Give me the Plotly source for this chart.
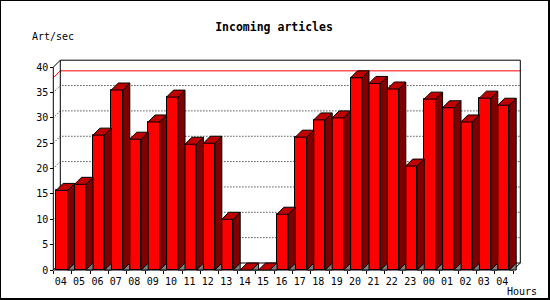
import plotly.graph_objects as go

# ---------------- data ----------------
hours = ["04", "05", "06", "07", "08", "09", "10", "11", "12", "13", "14", "15", "16",
         "17", "18", "19", "20", "21", "22", "23", "00", "01", "02", "03", "04"]
values = [15.7, 16.9, 26.6, 35.5, 25.8, 29.2, 34.1, 24.8, 25.0, 10.0, 0.0, 0.0, 11.0,
          26.2, 29.6, 30.0, 37.9, 36.8, 35.7, 20.5, 33.7, 32.0, 29.2, 33.9, 32.5]
y_ticks = [0, 5, 10, 15, 20, 25, 30, 35, 40]
title_text = "Incoming articles"
y_title = "Art/sec"
x_title = "Hours"

# ---------------- geometry / style ----------------
W, H = 550, 300
X0_PX = 53.3      # front y-axis position
SLOT_PX = 18.4    # width of one category slot
Y0_PX = 270       # front floor line
UNIT_PX = 5.07    # pixels per unit
DEPTH_PX = 7      # 3d depth offset
FONT = "DejaVu Sans Mono"

n = len(values)
ymax_axis = y_ticks[-1]
xr = [-0.5 - X0_PX / SLOT_PX, -0.5 + (W - X0_PX) / SLOT_PX]
yr = [-(H - Y0_PX) / UNIT_PX, Y0_PX / UNIT_PX]
dx = DEPTH_PX / SLOT_PX
dy = DEPTH_PX / UNIT_PX
bar_off = 2.8 / SLOT_PX
bar_w = 11.5 / SLOT_PX
x_left = -0.5
x_right = n - 0.5

FRONT = "#ff0000"
SIDE = "#800000"
TOP = "#c00000"
SHADOW = "#808080"

x0s = [i - 0.5 + bar_off for i in range(n)]
centers = [x + bar_w / 2 for x in x0s]

fig = go.Figure()

# front faces
fig.add_trace(go.Bar(x=centers, y=values, width=bar_w, base=0,
                     marker=dict(color=FRONT, line=dict(color="black", width=1)),
                     hoverinfo="skip", showlegend=False))

# floor shadows, side faces and top faces as polygons built from the values
sx, sy, tx, ty, gx, gy = [], [], [], [], [], []
for x0, v in zip(x0s, values):
    x1 = x0 + bar_w
    gx += [x1, x1 + dx, x1 + dx, x1, None]
    gy += [0, 0, dy, 0, None]
    if v > 0:
        sx += [x1, x1 + dx, x1 + dx, x1, x1, None]
        sy += [0, dy, v + dy, v, 0, None]
    tx += [x0, x0 + dx, x1 + dx, x1, x0, None]
    ty += [v, v + dy, v + dy, v, v, None]

for px_, py_, col in [(gx, gy, SHADOW), (sx, sy, SIDE), (tx, ty, TOP)]:
    fig.add_trace(go.Scatter(x=px_, y=py_, mode="lines", fill="toself", fillcolor=col,
                             line=dict(color="black", width=1), hoverinfo="skip",
                             showlegend=False))

# dummy trace for the label axis
fig.add_trace(go.Scatter(x=centers, y=[0] * n, xaxis="x2", mode="none",
                         hoverinfo="skip", showlegend=False))

shapes = []

def line(xs, ys, color="black", width=1, dash="solid", layer="below"):
    path = "M " + " L ".join(f"{a},{b}" for a, b in zip(xs, ys))
    shapes.append(dict(type="path", path=path, xref="x", yref="y", layer=layer,
                       line=dict(color=color, width=width, dash=dash)))

# gridlines (dotted, on the left wall and back wall)
for t in y_ticks[1:-1]:
    line([x_left, x_left + dx, x_right + dx], [t, t + dy, t + dy], dash="1px,2px")
# max line
vmax = max(values)
line([x_left, x_left + dx, x_right + dx], [vmax, vmax + dy, vmax + dy], color="#ff0000")
# frame
line([x_left + dx, x_left + dx, x_right + dx, x_right + dx, x_left + dx],
     [dy, ymax_axis + dy, ymax_axis + dy, dy, dy])
line([x_left, x_left + dx], [ymax_axis, ymax_axis + dy])
line([x_left, x_left + dx], [0, dy])
line([x_left, x_left], [0, ymax_axis])
line([x_left, x_right, x_right + dx], [0, 0, dy])

# outer border
shapes.append(dict(type="rect", xref="paper", yref="paper", x0=0, x1=549 / W,
                   y0=1 - 299 / H, y1=1, line=dict(color="black", width=2)))

fig.update_layout(
    width=W, height=H,
    margin=dict(l=0, r=0, t=0, b=0, pad=0),
    paper_bgcolor="white", plot_bgcolor="white",
    bargap=0, showlegend=False,
    shapes=shapes,
    title=dict(text=title_text, x=274 / W, xanchor="center", y=1 - 27 / H,
               yanchor="middle", xref="container", yref="container",
               font=dict(family=FONT, size=11.5, color="black", weight="bold")),
    xaxis=dict(range=xr, anchor="free", position=(H - Y0_PX) / H,
               tickmode="array", tickvals=[i - 0.5 for i in range(n + 1)],
               ticktext=[""] * (n + 1), ticks="outside", ticklen=3, tickwidth=1,
               tickcolor="black", showgrid=False, zeroline=False, showline=False,
               fixedrange=True, automargin=False),
    xaxis2=dict(range=xr, overlaying="x", anchor="free", position=(H - Y0_PX) / H,
                side="bottom", tickmode="array", tickvals=[i - 0.1 for i in range(n)],
                ticktext=hours, ticks="", ticklabelstandoff=4,
                tickfont=dict(family=FONT, size=10, color="black"),
                showgrid=False, zeroline=False, showline=False, fixedrange=True,
                automargin=False),
    yaxis=dict(range=yr, anchor="free", position=X0_PX / W,
               tickmode="array", tickvals=y_ticks, ticks="outside", ticklen=3,
               tickwidth=1, tickcolor="black",
               tickfont=dict(family=FONT, size=10, color="black"),
               showgrid=False, zeroline=False, showline=False, fixedrange=True,
               automargin=False),
    annotations=[
        dict(text=y_title, xref="paper", yref="paper", x=30 / W, y=1 - 37 / H,
             xanchor="left", yanchor="middle", showarrow=False,
             font=dict(family=FONT, size=10, color="black")),
        dict(text=x_title, xref="paper", yref="paper", x=505 / W, y=1 - 291.5 / H,
             xanchor="left", yanchor="middle", showarrow=False,
             font=dict(family=FONT, size=10, color="black")),
    ],
)

fig.write_html("out.html")
